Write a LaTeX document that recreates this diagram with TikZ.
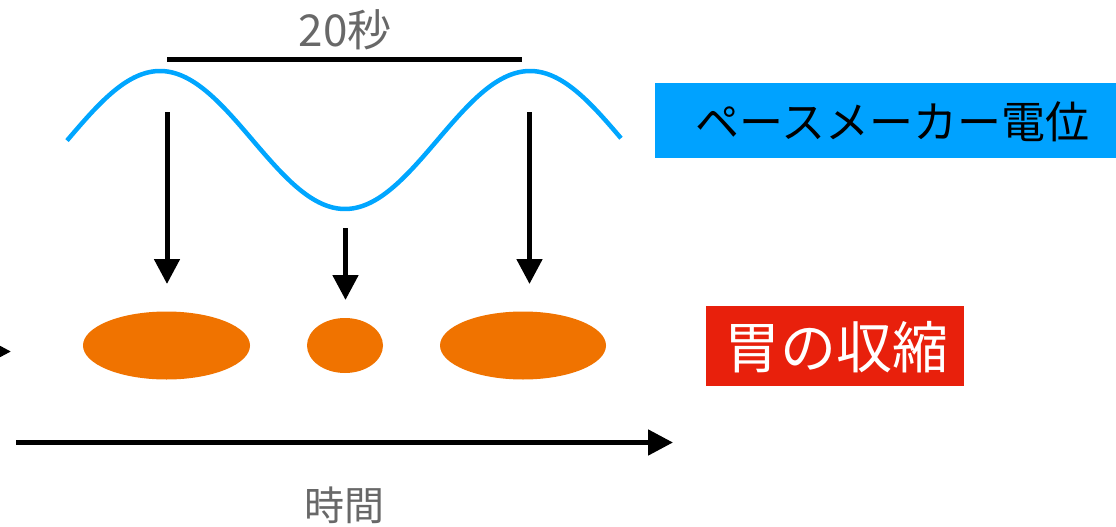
\documentclass[tikz,border=0pt]{standalone}
\usepackage{fontspec}
\setmainfont{Noto Sans CJK JP}
\usetikzlibrary{arrows.meta,shapes.geometric}
\definecolor{wave}{HTML}{00A6FF}
\definecolor{pmblue}{HTML}{00A2FF}
\definecolor{stred}{HTML}{E8200C}
\definecolor{blob}{HTML}{F07300}
\definecolor{txtgray}{HTML}{686868}
\tikzset{
  arr/.style={line width=5pt,-{Triangle[length=25pt,width=25pt]}},
  blobnode/.style={ellipse,fill=blob,inner sep=0pt},
  graytxt/.style={text=txtgray,inner sep=0pt},
}
\begin{document}
\begin{tikzpicture}[x=1pt,y=-1pt]
\useasboundingbox (0,0) rectangle (1116,527);
\clip (0,0) rectangle (1116,527);
% sine wave (pacemaker potential)
\draw[wave,line width=4.5pt,domain=67:621,samples=120,smooth]
  plot (\x,{140-69*cos((\x-160)/370*360)});
% 20 s bar
\coordinate (barL) at (167,60);
\coordinate (barR) at (522,60);
\draw[line width=5pt] (barL) -- (barR);
\node[graytxt,font=\fontsize{44}{44}\selectfont] (sec) at (345,30) {20秒};
% contractions
\node[blobnode,minimum width=167pt,minimum height=68pt] (c1) at (166.5,345.5) {};
\node[blobnode,minimum width=76pt,minimum height=55pt] (c2) at (345,345.5) {};
\node[blobnode,minimum width=166pt,minimum height=68pt] (c3) at (523,345.5) {};
% arrows
\coordinate (a1s) at (167,112);  \coordinate (a1e) at (167,284);
\coordinate (a2s) at (345.5,228); \coordinate (a2e) at (345.5,300);
\coordinate (a3s) at (529.5,112); \coordinate (a3e) at (529.5,284);
\draw[arr] (a1s) -- (a1e);
\draw[arr] (a2s) -- (a2e);
\draw[arr] (a3s) -- (a3e);
% left partial arrow
\coordinate (lts) at (-60,351.5);
\coordinate (lte) at (11,351.5);
\draw[arr] (lts) -- (lte);
% time axis
\coordinate (ts) at (16,442.5);
\coordinate (te) at (673,442.5);
\draw[arr] (ts) -- (te);
\node[graytxt,font=\fontsize{40}{40}\selectfont] (time) at (344,505) {時間};
% labels
\node[fill=pmblue,minimum width=461pt,minimum height=75pt,inner sep=0pt] (pmbox) at (885.5,120.5) {};
\node[inner sep=0pt,font=\fontsize{44}{44}\selectfont] (pmtext) at (892.5,122) {ペースメーカー電位};
\node[fill=stred,minimum width=258pt,minimum height=80pt,inner sep=0pt] (stbox) at (835,346) {};
\node[inner sep=0pt,text=white,font=\fontsize{56}{56}\selectfont] (sttext) at (836.5,347) {胃の収縮};
\end{tikzpicture}
\end{document}
